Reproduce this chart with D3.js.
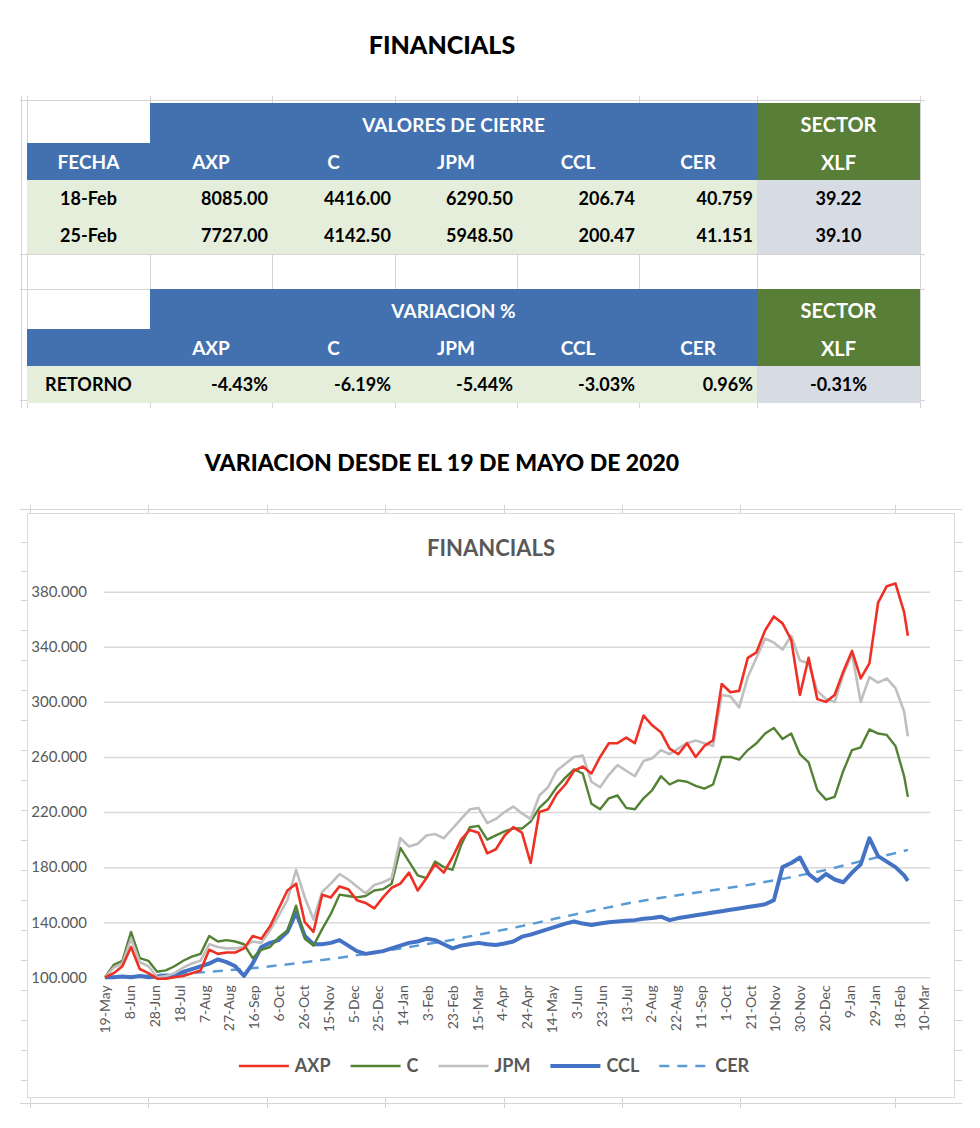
<!DOCTYPE html>
<html><head><meta charset="utf-8">
<script src="https://cdnjs.cloudflare.com/ajax/libs/d3/7.8.5/d3.min.js"></script>
<style>body{margin:0;background:#fff}svg{display:block}</style>
</head><body><svg id="c" width="980" height="1128"></svg>
<script>
// ---------------- DATA ----------------
const pageTitle = "FINANCIALS";
const chartSubtitle = "VARIACION DESDE EL 19 DE MAYO DE 2020";
const chartTitle = "FINANCIALS";
const tickers = ["AXP", "C", "JPM", "CCL", "CER"];
const sectorName = "XLF";
const closeDates = ["18-Feb", "25-Feb"];
const closeValues = [
  ["8085.00", "4416.00", "6290.50", "206.74", "40.759", "39.22"],
  ["7727.00", "4142.50", "5948.50", "200.47", "41.151", "39.10"]
];
const returnLabel = "RETORNO";
const returnValues = ["-4.43%", "-6.19%", "-5.44%", "-3.03%", "0.96%", "-0.31%"];

const dates = ["2020-05-19","2020-05-26","2020-06-02","2020-06-09","2020-06-16","2020-06-23","2020-06-30","2020-07-07","2020-07-14","2020-07-21","2020-07-28","2020-08-04","2020-08-11","2020-08-18","2020-08-25","2020-09-01","2020-09-08","2020-09-15","2020-09-22","2020-09-29","2020-10-06","2020-10-13","2020-10-20","2020-10-27","2020-11-03","2020-11-10","2020-11-17","2020-11-24","2020-12-01","2020-12-08","2020-12-15","2020-12-22","2020-12-29","2021-01-05","2021-01-12","2021-01-19","2021-01-26","2021-02-02","2021-02-09","2021-02-16","2021-02-23","2021-03-02","2021-03-09","2021-03-16","2021-03-23","2021-03-30","2021-04-06","2021-04-13","2021-04-20","2021-04-27","2021-05-04","2021-05-11","2021-05-18","2021-05-25","2021-06-01","2021-06-08","2021-06-15","2021-06-22","2021-06-29","2021-07-06","2021-07-13","2021-07-20","2021-07-27","2021-08-03","2021-08-10","2021-08-17","2021-08-24","2021-08-31","2021-09-07","2021-09-14","2021-09-21","2021-09-28","2021-10-05","2021-10-12","2021-10-19","2021-10-26","2021-11-02","2021-11-09","2021-11-16","2021-11-23","2021-11-30","2021-12-07","2021-12-14","2021-12-21","2021-12-28","2022-01-04","2022-01-11","2022-01-18","2022-01-25","2022-02-01","2022-02-08","2022-02-15","2022-02-22","2022-02-25"];

const axp = [100,103,108,122,106,103,99,99,100,101,103,105,120,117,118,118,121,130,128,137,150,163,168,140,133,160,158,166,164,156,154,150,158,165,168,176,163,172,182,176,187,200,207,205,190,193,203,209,205,183,220,222,233,240,250,253,248,260,270,270,274,270,290,283,278,266,262,270,260,268,272,313,307,308,332,336,352,362,357,345,305,332,302,300,305,322,337,317,328,372,384,386,365,348];
const c   = [100,109,112,133,114,112,104,105,108,112,115,117,130,126,127,126,124,114,120,122,129,134,152,128,123,135,146,160,159,158,159,163,164,168,194,184,174,172,184,180,178,196,209,210,200,203,206,208,208,213,223,229,238,245,251,248,226,222,230,232,223,222,230,236,246,240,243,242,239,237,240,260,260,258,265,270,277,281,273,277,262,256,236,229,231,250,265,267,280,277,276,268,246,231];
const jpm = [100,107,110,128,111,108,100,101,103,107,110,112,124,122,121,121,122,126,125,134,145,156,178,158,142,162,168,175,171,166,161,167,169,172,201,195,197,203,204,201,208,215,222,223,212,215,220,224,219,215,232,238,250,255,260,261,242,238,247,254,250,246,257,259,265,262,266,270,272,270,268,305,304,296,318,332,346,343,338,348,330,328,308,302,300,320,335,300,318,314,317,310,293,275];
const ccl = [100,100,100.5,100,101,100,100.5,101,101,104,106,108,110,113,111,108,101,110,122,125,127,133,147,130,124,124,125,127,123,119,117,118,119,121,123,125,126,128,127,124,121,123,124,125,124,123.5,124.5,126,129.5,131,133,135,137,139,140.5,139,138,139,140,140.5,141,141.5,142.5,143,144,141.5,143,144,145,146,147,148,149,150,151,152,153,156,180,183,187,175,170,175,171,169,176,182,201,188,184,180,174,170];

const cerDates = ["2020-05-19","2020-06-19","2020-07-19","2020-08-19","2020-09-19","2020-10-19","2020-11-19","2020-12-19","2021-01-19","2021-02-19","2021-03-19","2021-04-19","2021-05-19","2021-06-19","2021-07-19","2021-08-19","2021-09-19","2021-10-19","2021-11-19","2021-12-19","2022-01-19","2022-02-19","2022-02-25"];
const cer = [100,101,102.5,104.5,107,110,113.5,117.5,122,126.5,131.5,137,143,149,154.5,159,163,167,172,177.5,184.5,191,192.5];

const yTicks = [100,140,180,220,260,300,340,380];
const xTicks = ["2020-05-19","2020-06-08","2020-06-28","2020-07-18","2020-08-07","2020-08-27","2020-09-16","2020-10-06","2020-10-26","2020-11-15","2020-12-05","2020-12-25","2021-01-14","2021-02-03","2021-02-23","2021-03-15","2021-04-04","2021-04-24","2021-05-14","2021-06-03","2021-06-23","2021-07-13","2021-08-02","2021-08-22","2021-09-11","2021-10-01","2021-10-21","2021-11-10","2021-11-30","2021-12-20","2022-01-09","2022-01-29","2022-02-18","2022-03-10"];

// ---------------- DRAW ----------------
const svg = d3.select("#c");
const parse = d3.timeParse("%Y-%m-%d");
const FONT = "Lato, 'Open Sans', sans-serif";
const BLUE = "#4371b0", GREEN = "#587e38", LIGHTG = "#e5eedb", LIGHTB = "#d7dbe3", GRID = "#d4d4d4";

svg.append("rect").attr("width", 980).attr("height", 1128).attr("fill", "#fff");

// page title
svg.append("text").attr("x", 442).attr("y", 54).attr("text-anchor", "middle")
  .attr("font-family", FONT).attr("font-weight", 900).attr("font-size", 25).attr("fill", "#000")
  .text(pageTitle);

// sheet gridlines around the tables
const colX = [27, 150, 272, 395, 517, 639, 757, 920];
const g0 = svg.append("g").attr("stroke", GRID).attr("stroke-width", 1);
g0.append("line").attr("x1", 20).attr("x2", 925).attr("y1", 100.5).attr("y2", 100.5);
colX.forEach(x => g0.append("line").attr("x1", x + .5).attr("x2", x + .5).attr("y1", 96).attr("y2", 408));
[254.5, 289.5, 400.5].forEach(y => g0.append("line").attr("x1", 20).attr("x2", 925).attr("y1", y).attr("y2", y));
g0.append("line").attr("x1", 21.5).attr("x2", 21.5).attr("y1", 96).attr("y2", 408);

function cellText(g, txt, x, y, anchor, color, size) {
  g.append("text").attr("x", x).attr("y", y).attr("dy", "0.36em").attr("text-anchor", anchor)
    .attr("font-family", FONT).attr("font-weight", 700).attr("font-size", size || 18)
    .attr("fill", color).text(txt);
}
function table(top, title, rowsLabels, rowsValues, firstHeader) {
  const g = svg.append("g");
  const r1 = top, r2 = top + 40, r3 = top + 77;
  g.append("rect").attr("x", colX[1]).attr("y", r1).attr("width", colX[6] - colX[1]).attr("height", r2 - r1).attr("fill", BLUE);
  g.append("rect").attr("x", colX[0]).attr("y", r2).attr("width", colX[6] - colX[0]).attr("height", r3 - r2).attr("fill", BLUE);
  g.append("rect").attr("x", colX[6]).attr("y", r1).attr("width", colX[7] - colX[6]).attr("height", r3 - r1).attr("fill", GREEN);
  cellText(g, title, (colX[1] + colX[6]) / 2, (r1 + r2) / 2 + 2, "middle", "#fff", 19);
  cellText(g, "SECTOR", (colX[6] + colX[7]) / 2, (r1 + r2) / 2 + 2, "middle", "#fff", 20);
  cellText(g, sectorName, (colX[6] + colX[7]) / 2, (r2 + r3) / 2 + 1, "middle", "#fff", 20);
  if (firstHeader) cellText(g, firstHeader, (colX[0] + colX[1]) / 2, (r2 + r3) / 2 + 1, "middle", "#fff", 19);
  tickers.forEach((t, i) => cellText(g, t, (colX[i + 1] + colX[i + 2]) / 2, (r2 + r3) / 2 + 1, "middle", "#fff", 19));
  rowsLabels.forEach((lab, ri) => {
    const y0 = r3 + ri * 37;
    g.append("rect").attr("x", colX[0]).attr("y", y0).attr("width", colX[6] - colX[0]).attr("height", 37).attr("fill", LIGHTG);
    g.append("rect").attr("x", colX[6]).attr("y", y0).attr("width", colX[7] - colX[6]).attr("height", 37).attr("fill", LIGHTB);
    cellText(g, lab, (colX[0] + colX[1]) / 2, y0 + 19, "middle", "#000");
    rowsValues[ri].forEach((v, i) => {
      if (i < 5) cellText(g, v, colX[i + 2] - 4, y0 + 19, "end", "#000");
      else cellText(g, v, (colX[6] + colX[7]) / 2, y0 + 19, "middle", "#000");
    });
  });
}
table(103, "VALORES DE CIERRE", closeDates, closeValues, "FECHA");
table(289, "VARIACION %", [returnLabel], [returnValues], null);

// subtitle
svg.append("text").attr("x", 442).attr("y", 471).attr("text-anchor", "middle")
  .attr("font-family", FONT).attr("font-weight", 900).attr("font-size", 23).attr("fill", "#000")
  .text(chartSubtitle);

// sheet gridline stubs around chart
const g1 = svg.append("g").attr("stroke", GRID).attr("stroke-width", 1);
[30, 148, 267, 385, 504, 622, 740, 895].forEach(x => {
  g1.append("line").attr("x1", x + .5).attr("x2", x + .5).attr("y1", 505).attr("y2", 513);
  g1.append("line").attr("x1", x + .5).attr("x2", x + .5).attr("y1", 1098).attr("y2", 1108);
});
g1.append("line").attr("x1", 20).attr("x2", 962).attr("y1", 1103.5).attr("y2", 1103.5);
g1.append("line").attr("x1", 20).attr("x2", 962).attr("y1", 509.5).attr("y2", 509.5);
[542, 571, 600, 630, 660, 690, 720, 750, 780, 810, 840, 870, 900, 930, 960, 990, 1020, 1050, 1080].forEach(y => {
  g1.append("line").attr("x1", 21).attr("x2", 27).attr("y1", y + .5).attr("y2", y + .5);
  g1.append("line").attr("x1", 955).attr("x2", 962).attr("y1", y + .5).attr("y2", y + .5);
});

// chart box
svg.append("rect").attr("x", 27.5).attr("y", 513.5).attr("width", 927).attr("height", 584)
  .attr("fill", "#fff").attr("stroke", "#d9d9d9").attr("stroke-width", 1);

svg.append("text").attr("x", 491).attr("y", 556).attr("text-anchor", "middle")
  .attr("font-family", FONT).attr("font-weight", 700).attr("font-size", 22).attr("fill", "#595959")
  .text(chartTitle);

const x = d3.scaleTime().domain([parse("2020-05-19"), parse("2022-03-10")]).range([105, 924]);
const y = d3.scaleLinear().domain([100, 380]).range([977.3, 591.7]);

// gridlines
const yAxis = d3.axisLeft(y).tickValues(yTicks).tickSize(-(930 - 104)).tickFormat(d3.format(".3f")).tickPadding(17);
const ga = svg.append("g").attr("transform", "translate(104,0)").call(yAxis);
ga.select(".domain").remove();
ga.selectAll(".tick line").attr("stroke", "#d9d9d9").attr("stroke-width", 1.5);
ga.selectAll(".tick text").attr("font-family", FONT).attr("font-size", 15).attr("fill", "#595959");

// x tick labels
const fmt = d3.timeFormat("%-d-%b");
const xAxis = d3.axisBottom(x).tickValues(xTicks.map(parse)).tickSize(0).tickFormat(fmt);
const gx = svg.append("g").attr("transform", "translate(0,977.3)").call(xAxis);
gx.select(".domain").remove();
gx.selectAll(".tick text").attr("font-family", FONT).attr("font-size", 14).attr("fill", "#595959")
  .attr("text-anchor", "end").attr("transform", "rotate(-90)").attr("x", -8).attr("y", 0).attr("dy", "0.35em");

// series
const pd = dates.map(parse);
const series = [
  {name: "AXP", vals: axp, dts: pd, color: "#ee3124", w: 2.6, dash: null},
  {name: "C", vals: c, dts: pd, color: "#548235", w: 2.4, dash: null},
  {name: "JPM", vals: jpm, dts: pd, color: "#bfbfbf", w: 2.6, dash: null},
  {name: "CCL", vals: ccl, dts: pd, color: "#4472c4", w: 4, dash: null},
  {name: "CER", vals: cer, dts: cerDates.map(parse), color: "#5b9bd5", w: 2.5, dash: "10,8"}
];
const drawOrder = ["CER", "CCL", "C", "JPM", "AXP"];
const line = d3.line().x(d => x(d[0])).y(d => y(d[1]));
drawOrder.forEach(n => {
  const s = series.find(q => q.name === n);
  svg.append("path").datum(s.dts.map((d, i) => [d, s.vals[i]]))
    .attr("d", line).attr("fill", "none").attr("stroke", s.color).attr("stroke-width", s.w)
    .attr("stroke-linejoin", "round").attr("stroke-dasharray", s.dash);
});

// legend
const lg = svg.append("g");
const items = series.map(s => {
  const gi = lg.append("g");
  gi.append("line").attr("x1", 0).attr("x2", 50).attr("y1", 0).attr("y2", 0)
    .attr("stroke", s.color).attr("stroke-width", s.w).attr("stroke-dasharray", s.dash);
  const t = gi.append("text").attr("x", 56).attr("dy", "0.36em").attr("font-family", FONT)
    .attr("font-weight", 700).attr("font-size", 18).attr("fill", "#595959").text(s.name);
  return {gi, w: 56 + t.node().getComputedTextLength()};
});
const total = d3.sum(items, d => d.w) + 20 * (items.length - 1);
let lx = 494 - total / 2;
items.forEach(it => { it.gi.attr("transform", `translate(${lx},1066)`); lx += it.w + 20; });
</script></body></html>
